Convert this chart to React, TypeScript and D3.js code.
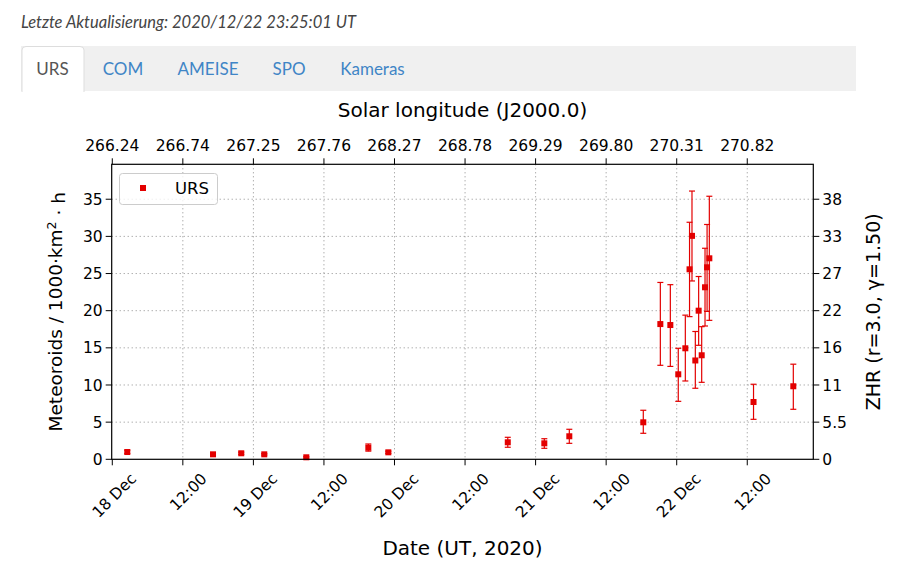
import React, { useEffect, useRef } from "react";
import * as d3 from "d3";

// observations (UT), meteoroid flux and its error range
const obsTimes = [
  "2020-12-18T02:33Z", "2020-12-18T17:08Z", "2020-12-18T21:56Z", "2020-12-19T01:51Z",
  "2020-12-19T09:00Z", "2020-12-19T19:33Z", "2020-12-19T22:57Z", "2020-12-20T19:16Z",
  "2020-12-21T01:29Z", "2020-12-21T05:44Z", "2020-12-21T18:19Z", "2020-12-21T21:13Z",
  "2020-12-21T22:55Z", "2020-12-22T00:16Z", "2020-12-22T01:28Z", "2020-12-22T02:11Z",
  "2020-12-22T02:36Z", "2020-12-22T03:10Z", "2020-12-22T03:44Z", "2020-12-22T04:15Z",
  "2020-12-22T04:49Z", "2020-12-22T05:10Z", "2020-12-22T05:33Z", "2020-12-22T13:04Z",
  "2020-12-22T19:50Z",
];
const rates = [
  0.98, 0.67, 0.81, 0.67, 0.27, 1.56, 0.94, 2.29, 2.15, 3.1, 4.98, 18.2,
  18.07, 11.44, 14.94, 25.57, 30.07, 13.3, 20.0, 14.0, 23.15, 25.84, 27.05, 7.71,
  9.83,
];
const rateLow = [
  0.78, 0.57, 0.66, 0.57, 0.17, 1.1, 0.79, 1.62, 1.48, 2.15, 3.5, 12.65,
  12.5, 7.8, 10.54, 19.2, 24.0, 9.56, 15.34, 10.36, 17.94, 19.9, 18.7, 5.38,
  6.73,
];
const rateHigh = [
  1.22, 0.77, 0.96, 0.77, 0.37, 2.06, 1.09, 2.96, 2.77, 4.04, 6.6, 23.8,
  23.5, 14.94, 19.4, 31.9, 36.1, 17.2, 24.6, 17.85, 28.4, 31.6, 35.4, 10.1,
  12.8,
];

const dateTicks = [
  "2020-12-18T00:00Z", "2020-12-18T12:00Z", "2020-12-19T00:00Z", "2020-12-19T12:00Z",
  "2020-12-20T00:00Z", "2020-12-20T12:00Z", "2020-12-21T00:00Z", "2020-12-21T12:00Z",
  "2020-12-22T00:00Z", "2020-12-22T12:00Z",
];
const dateTickLabels = ["18 Dec", "12:00", "19 Dec", "12:00", "20 Dec", "12:00", "21 Dec", "12:00", "22 Dec", "12:00"];
const solLongLabels = ["266.24", "266.74", "267.25", "267.76", "268.27", "268.78", "269.29", "269.80", "270.31", "270.82"];
const rateTicks = [0, 5, 10, 15, 20, 25, 30, 35];
const zhrLabels = ["0", "5.5", "11", "16", "22", "27", "33", "38"];
const tabs = ["URS", "COM", "AMEISE", "SPO", "Kameras"];

const W = 913;
const H = 581;
const RED = "#e30000";
const MPL = "'DejaVu Sans', Verdana, sans-serif";

export default function App() {
  const ref = useRef<SVGSVGElement>(null);

  useEffect(() => {
    if (!ref.current) return;
    const svg = d3.select(ref.current);
    svg.selectAll("*").remove();

    // --- page header ---
    svg.append("text")
      .attr("x", 21).attr("y", 28)
      .style("font-family", "Lato, sans-serif").style("font-style", "italic")
      .style("font-size", "16.5px").attr("fill", "#444")
      .text("Letzte Aktualisierung: 2020/12/22 23:25:01 UT");

    svg.append("rect").attr("x", 21).attr("y", 46).attr("width", 835).attr("height", 45).attr("fill", "#f0f0f0");
    svg.append("path")
      .attr("d", "M22,92 V50 Q22,46.5 26,46.5 H80 Q84,46.5 84,50 V92")
      .attr("fill", "#fff").attr("stroke", "#ddd");

    const tabX = [52.5, 123, 208, 289, 372.5];
    svg.append("g").selectAll("text").data(tabs).enter().append("text")
      .attr("x", (d, i) => tabX[i]).attr("y", 75)
      .attr("text-anchor", "middle")
      .style("font-family", "Lato, sans-serif").style("font-size", "17px")
      .attr("fill", (d, i) => (i === 0 ? "#555" : "#3f85c6"))
      .text(d => d);

    // --- chart ---
    const left = 111.7, right = 813.3, top = 164.3, bottom = 459.3;
    const x = d3.scaleUtc()
      .domain([new Date("2020-12-17T23:54Z"), new Date("2020-12-22T23:14Z")])
      .range([left, right]);
    const y = d3.scaleLinear().domain([0, 39.7]).range([bottom, top]);
    const ticks = dateTicks.map(d => new Date(d));

    const grid = svg.append("g").attr("stroke", "#808080").attr("stroke-width", 0.9).attr("stroke-dasharray", "1,3");
    ticks.slice(1).forEach(t => {
      grid.append("line").attr("x1", x(t)).attr("x2", x(t)).attr("y1", top).attr("y2", bottom);
    });
    rateTicks.slice(1).forEach(v => {
      grid.append("line").attr("x1", left).attr("x2", right).attr("y1", y(v)).attr("y2", y(v));
    });

    // error bars + markers
    const pts = obsTimes.map((t, i) => ({ t: new Date(t), v: rates[i], lo: rateLow[i], hi: rateHigh[i] }));
    const eb = svg.append("g").attr("stroke", RED).attr("stroke-width", 1.2);
    pts.forEach(p => {
      const cx = x(p.t);
      eb.append("line").attr("x1", cx).attr("x2", cx).attr("y1", y(p.lo)).attr("y2", y(p.hi));
      eb.append("line").attr("x1", cx - 3).attr("x2", cx + 3).attr("y1", y(p.lo)).attr("y2", y(p.lo));
      eb.append("line").attr("x1", cx - 3).attr("x2", cx + 3).attr("y1", y(p.hi)).attr("y2", y(p.hi));
    });
    svg.append("g").selectAll("rect").data(pts).enter().append("rect")
      .attr("x", d => x(d.t) - 3).attr("y", d => y(d.v) - 3)
      .attr("width", 6).attr("height", 6).attr("fill", RED);

    // frame
    svg.append("rect").attr("x", left).attr("y", top).attr("width", right - left).attr("height", bottom - top)
      .attr("fill", "none").attr("stroke", "#000").attr("stroke-width", 1.2);

    const axes = svg.append("g").attr("stroke", "#000").attr("stroke-width", 1);
    const lbl = svg.append("g").style("font-family", MPL).style("font-size", "15.5px").attr("fill", "#000");

    ticks.forEach((t, i) => {
      const tx = x(t);
      axes.append("line").attr("x1", tx).attr("x2", tx).attr("y1", bottom).attr("y2", bottom + 6);
      axes.append("line").attr("x1", tx).attr("x2", tx).attr("y1", top).attr("y2", top - 6);
      lbl.append("text")
        .attr("transform", `translate(${tx + 25},${bottom + 20.5}) rotate(-45)`)
        .attr("text-anchor", "end")
        .text(dateTickLabels[i]);
      lbl.append("text")
        .attr("x", tx).attr("y", top - 13)
        .attr("text-anchor", "middle")
        .text(solLongLabels[i]);
    });

    rateTicks.forEach((v, i) => {
      const ty = y(v);
      axes.append("line").attr("x1", left - 6).attr("x2", left).attr("y1", ty).attr("y2", ty);
      axes.append("line").attr("x1", right).attr("x2", right + 6).attr("y1", ty).attr("y2", ty);
      lbl.append("text").attr("x", left - 9).attr("y", ty).attr("dy", "0.36em")
        .attr("text-anchor", "end").text(String(v));
      lbl.append("text").attr("x", right + 9).attr("y", ty).attr("dy", "0.36em")
        .attr("text-anchor", "start").text(zhrLabels[i]);
    });

    // axis titles
    const titles = svg.append("g").style("font-family", MPL).attr("fill", "#000").attr("text-anchor", "middle");
    const cx = (left + right) / 2, cy = (top + bottom) / 2;
    titles.append("text").attr("x", cx).attr("y", 117).style("font-size", "20px").text("Solar longitude (J2000.0)");
    titles.append("text").attr("x", cx).attr("y", 555).style("font-size", "20px").text("Date (UT, 2020)");
    const yl = titles.append("text")
      .attr("transform", `translate(62,${cy}) rotate(-90)`)
      .style("font-size", "18.5px");
    yl.append("tspan").text("Meteoroids / 1000·km");
    yl.append("tspan").attr("dy", "-0.45em").style("font-size", "12.5px").text("2");
    yl.append("tspan").attr("dy", "0.45em").text(" · h");
    titles.append("text")
      .attr("transform", `translate(880,${cy}) rotate(-90)`)
      .style("font-size", "19px")
      .text("ZHR (r=3.0, γ=1.50)");

    // legend
    const lg = svg.append("g");
    lg.append("rect").attr("x", 119.5).attr("y", 173.5).attr("width", 98).attr("height", 31).attr("rx", 3)
      .attr("fill", "#fff").attr("fill-opacity", 0.8).attr("stroke", "#ccc");
    lg.append("rect").attr("x", 140).attr("y", 185).attr("width", 6).attr("height", 6).attr("fill", RED);
    lg.append("text").attr("x", 175).attr("y", 188).attr("dy", "0.36em")
      .style("font-family", MPL).style("font-size", "16.5px").text("URS");
  }, []);

  return (
    <div style={{ position: "absolute", left: 0, top: 0, width: W, height: H, background: "#fff" }}>
      <svg ref={ref} width={W} height={H}></svg>
    </div>
  );
}
